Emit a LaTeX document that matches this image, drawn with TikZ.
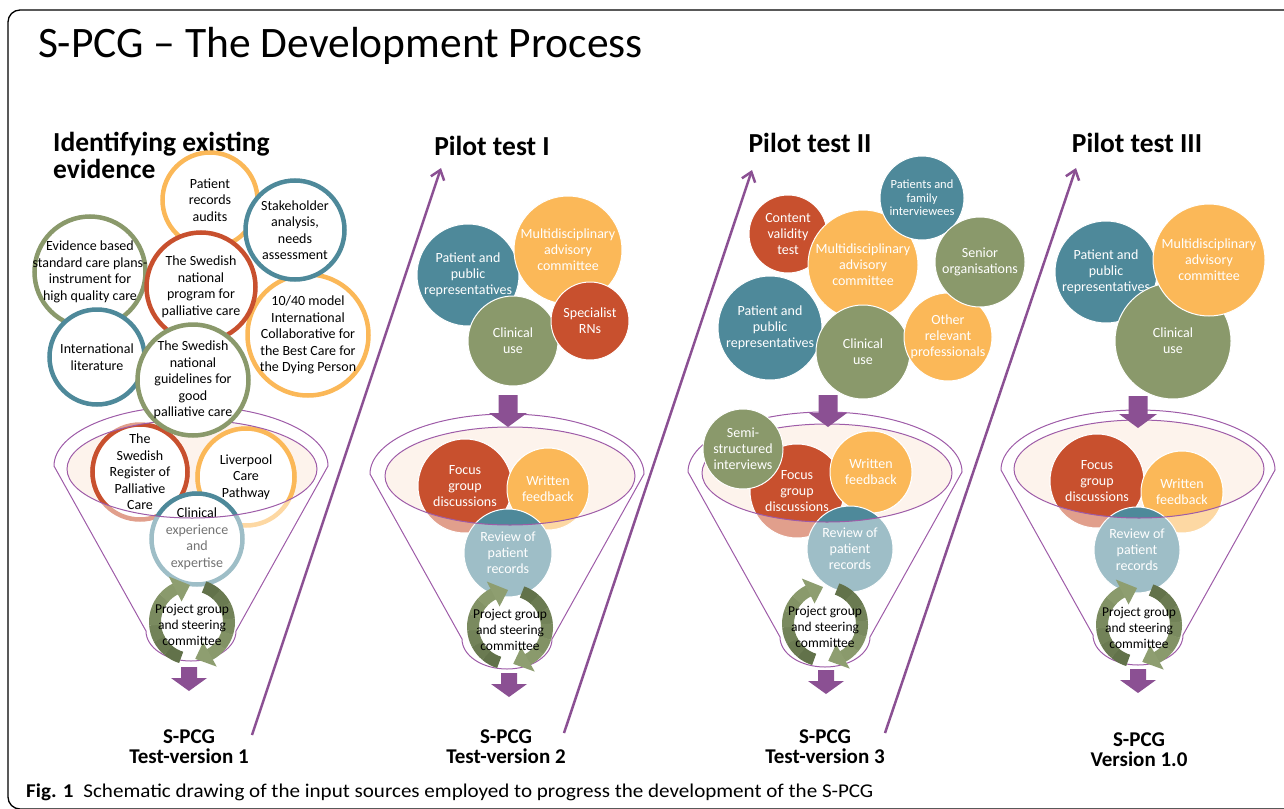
\documentclass[tikz,border=0pt]{standalone}
\usepackage{fontspec}
\setmainfont{Carlito}
\usetikzlibrary{calc,arrows.meta}

\definecolor{tealc}{RGB}{78,137,154}
\definecolor{yellc}{RGB}{251,184,88}
\definecolor{redc}{RGB}{200,80,46}
\definecolor{greenc}{RGB}{138,153,107}
\definecolor{purpc}{RGB}{139,80,147}
\definecolor{funnelc}{RGB}{158,92,168}
\definecolor{peachc}{RGB}{253,243,236}
\definecolor{cycdark}{RGB}{98,114,74}
\definecolor{cyclight}{RGB}{142,158,112}

\newcommand\fdamt{100}

\tikzset{
        ring/.style = {circle, draw=#1!\fdamt!white, line width=4.5pt,
            fill=white, inner sep=0pt},
        blob/.style = {circle, fill=#1!\fdamt!white, draw=white,
            line width=1pt, inner sep=0pt},
        ringtxt/.style = {align=center, inner sep=0pt, text=black!\fdamt!white,
            font=\fontsize{14}{16.5}\selectfont},
        blobtxt/.style = {align=center, inner sep=0pt, text=white,
            font=\fontsize{14}{16}\selectfont},
        smalltxt/.style = {align=center, inner sep=0pt, text=white,
            font=\fontsize{12.5}{13.5}\selectfont},
        head/.style = {inner sep=0pt, font=\fontsize{27.5}{26.5}\selectfont\bfseries},
        vlabel/.style = {inner sep=0pt, align=center,
            font=\fontsize{21}{20}\selectfont\bfseries},
        funnelline/.style = {draw=funnelc, line width=1pt},
        cycband/.style = {line width=12pt},
        cyctxt/.style = {align=center, inner sep=0pt,
            font=\fontsize{13.5}{16}\selectfont},
        diag/.style = {draw=purpc, line width=2.5pt,
            -{Straight Barb[length=9pt,width=14pt]}},
        downarr/.pic = {\fill[purpc] (-9.5,0) -- (9.5,0) -- (9.5,18) -- (19,18)
            -- (0,32) -- (-19,18) -- (-9.5,18) -- cycle;},
        downarrsm/.pic = {\fill[purpc] (-8,0) -- (8,0) -- (8,11) -- (18,11)
            -- (0,24) -- (-18,11) -- (-8,11) -- cycle;},
    }

% outer outline of a funnel, #1 = centre of its top ellipse
\newcommand\funnelframe[1]{%
    \draw[funnelline] ($(#1)+(-137,0)$) arc[start angle=180, end angle=360,
        x radius=137, y radius=60] -- ($(#1)+(45,165)$)
        arc[start angle=0, end angle=180, x radius=45, y radius=30] -- cycle;
}

% the two turning arrows round "Project group and steering committee"
\newcommand\cyclering[1]{%
    \foreach \a/\b in {107/267,289/445}{
        \pgfmathsetmacro\hb{\b-24}
        \foreach \k in {0,...,5}{
            \pgfmathsetmacro\sa{\a+(\hb-\a)*\k/6}
            \pgfmathsetmacro\ea{\a+(\hb-\a)*(\k+1)/6+0.8}
            \pgfmathtruncatemacro\mx{100-\k*18}
            \draw[cycband, draw=cycdark!\mx!cyclight] ($(#1)+(\sa:37)$)
                arc[start angle=\sa, end angle=\ea, radius=37];
        }
        \fill[cyclight] ($(#1)+(\hb:23)$) -- ($(#1)+(\hb:51)$) -- ($(#1)+(\b:37)$) -- cycle;
    }
}

\begin{document}
\begin{tikzpicture}[x=1pt, y=-1pt]
    \useasboundingbox (0,0) rectangle (1284,808);
    \clip (0,0) rectangle (1284,808);

    % frame
    \draw[line width=1.3pt, rounded corners=12pt] (1300,809) -- (8,809) -- (8,10) -- (1300,10);

    % titles
    \node[anchor=base west, inner sep=0pt, font=\fontsize{43.5}{48}\selectfont] (title)
        at (38,58) {S-PCG – The Development Process};
    \node[head, anchor=base west, align=left] (h1) at (53,178) {Identifying existing\\evidence};
    \node[head, anchor=base] (h2) at (492,155) {Pilot test I};
    \node[head, anchor=base] (h3) at (810,152) {Pilot test II};
    \node[head, anchor=base] (h4) at (1137,152) {Pilot test III};

    % funnel centres (top ellipse) and inner ellipse centres
    \coordinate (f1) at (191,466);   \coordinate (f1i) at (192,469);
    \coordinate (f2) at (507,474);   \coordinate (f2i) at (510,476);
    \coordinate (f3) at (825,472);   \coordinate (f3i) at (827,473);
    \coordinate (f4) at (1138,470);  \coordinate (f4i) at (1139,469);

    \foreach \f in {f1,f2,f3,f4}{
        \funnelframe{\f}
        \fill[peachc] (\f i) ellipse[x radius=125, y radius=49];
    }

    % funnel 1
    \foreach \fdamt in {55,100}{
        \begin{scope}
            \ifnum\fdamt=100 \clip (f1i) ellipse[x radius=125, y radius=49];\fi
            \node[ring=redc, minimum size=95pt,
                label={[ringtxt]center:{The\\Swedish\\Register of\\Palliative\\Care}}] (p1reg) at (140,472) {};
            \node[ring=yellc, minimum size=97pt,
                label={[ringtxt]center:{Liverpool\\Care\\Pathway}}] (p1liv) at (246,477) {};
            \node[ring=tealc, minimum size=91pt,
                label={[ringtxt]center:{Clinical\\experience\\and\\expertise}}] (p1cli) at (197,539) {};
        \end{scope}
    }

    % funnel 2
    \foreach \fdamt in {55,100}{
        \begin{scope}
            \ifnum\fdamt=100 \clip (f2i) ellipse[x radius=125, y radius=49];\fi
            \node[blob=redc, minimum size=94pt,
                label={[blobtxt]center:{Focus\\group\\discussions}}] (p2foc) at (465,486) {};
            \node[blob=yellc, minimum size=82pt,
                label={[blobtxt]center:{Written\\feedback}}] (p2wri) at (548,489) {};
            \node[blob=tealc, minimum size=88pt,
                label={[blobtxt]center:{Review of\\patient\\records}}] (p2rev) at (508,553) {};
        \end{scope}
    }

    % funnel 3
    \foreach \fdamt in {55,100}{
        \begin{scope}
            \ifnum\fdamt=100 \clip (f3i) ellipse[x radius=125, y radius=49];\fi
            \node[blob=redc, minimum size=94pt,
                label={[blobtxt]center:{Focus\\group\\discussions}}] (p3foc) at (797,491) {};
            \node[blob=yellc, minimum size=82pt,
                label={[blobtxt]center:{Written\\feedback}}] (p3wri) at (871,472) {};
            \node[blob=tealc, minimum size=86pt,
                label={[blobtxt]center:{Review of\\patient\\records}}] (p3rev) at (850,549) {};
        \end{scope}
    }

    % funnel 4
    \foreach \fdamt in {55,100}{
        \begin{scope}
            \ifnum\fdamt=100 \clip (f4i) ellipse[x radius=125, y radius=49];\fi
            \node[blob=redc, minimum size=94pt,
                label={[blobtxt]center:{Focus\\group\\discussions}}] (p4foc) at (1097,481) {};
            \node[blob=yellc, minimum size=82pt,
                label={[blobtxt]center:{Written\\feedback}}] (p4wri) at (1182,492) {};
            \node[blob=tealc, minimum size=86pt,
                label={[blobtxt]center:{Review of\\patient\\records}}] (p4rev) at (1137,550) {};
        \end{scope}
    }

    \foreach \f in {f1,f2,f3,f4}
        \draw[funnelline] (\f i) ellipse[x radius=125, y radius=49];

    \node[blob=greenc, minimum size=80pt,
        label={[blobtxt]center:{Semi-\\structured\\interviews}}] (p3sem) at (743,449) {};

    % project group cycles
    \coordinate (c1) at (192,622);
    \coordinate (c2) at (510,627);
    \coordinate (c3) at (825,624);
    \coordinate (c4) at (1139,625);
    \foreach \c in {c1,c2,c3,c4}{
        \cyclering{\c}
        \node[cyctxt] (\c t) at ($(\c)+(0,3)$) {Project group\\and steering\\committee};
    }

    % identifying existing evidence
    \node[ring=greenc, minimum size=111pt,
        label={[ringtxt]center:{Evidence based\\standard care plans-\\instrument for\\high quality care}}] (p1evi) at (90,272) {};
    \node[ring=yellc, minimum size=95pt,
        label={[ringtxt]center:{Patient\\records\\audits}}] (p1aud) at (210,200) {};
    \node[ring=yellc, minimum size=121pt,
        label={[ringtxt]center:{10/40 model\\International\\Collaborative for\\the Best Care for\\the Dying Person}}] (p1mod) at (308,335) {};
    \node[ring=tealc, minimum size=99pt,
        label={[ringtxt]center:{Stakeholder\\analysis,\\needs\\assessment}}] (p1stk) at (295,230) {};
    \node[ring=redc, minimum size=109pt,
        label={[ringtxt]center:{The Swedish\\national\\program for\\palliative care}}] (p1prg) at (201,287) {};
    \node[ring=tealc, minimum size=95pt,
        label={[ringtxt]center:{International\\literature}}] (p1lit) at (97,357) {};
    \node[ring=greenc, minimum size=111pt,
        label={[ringtxt]center:{The Swedish\\national\\guidelines for\\good\\palliative care}}] (p1gui) at (193,380) {};

    % pilot test I
    \node[blob=tealc, minimum size=102pt,
        label={[blobtxt]center:{Patient and\\public\\representatives}}] (p2pat) at (468,275) {};
    \node[blob=yellc, minimum size=108pt,
        label={[blobtxt]center:{Multidisciplinary\\advisory\\committee}}] (p2mdc) at (568,250) {};
    \node[blob=greenc, minimum size=90pt,
        label={[blobtxt]center:{Clinical\\use}}] (p2cli) at (513,341) {};
    \node[blob=redc, minimum size=78pt,
        label={[blobtxt]center:{Specialist\\RNs}}] (p2spe) at (590,321) {};

    % pilot test II
    \node[blob=redc, minimum size=78pt,
        label={[blobtxt]center:{Content\\validity\\test}}] (p3con) at (788,234) {};
    \node[blob=yellc, minimum size=110pt,
        label={[blobtxt]center:{Multidisciplinary\\advisory\\committee}}] (p3mdc) at (863,265) {};
    \node[blob=tealc, minimum size=84pt,
        label={[smalltxt]center:{Patients and\\family\\interviewees}}] (p3pfi) at (922,198) {};
    \node[blob=tealc, minimum size=104pt,
        label={[blobtxt]center:{Patient and\\public\\representatives}}] (p3pat) at (770,328) {};
    \node[blob=greenc, minimum size=94pt,
        label={[blobtxt]center:{Clinical\\use}}] (p3cli) at (863,352) {};
    \node[blob=yellc, minimum size=88pt,
        label={[blobtxt]center:{Other\\relevant\\professionals}}] (p3oth) at (948,337) {};
    \node[blob=greenc, minimum size=90pt,
        label={[blobtxt]center:{Senior\\organisations}}] (p3sen) at (980,262) {};

    % pilot test III
    \node[blob=tealc, minimum size=102pt,
        label={[blobtxt]center:{Patient and\\public\\representatives}}] (p4pat) at (1106,272) {};
    \node[blob=greenc, minimum size=116pt,
        label={[blobtxt]center:{Clinical\\use}}] (p4cli) at (1173,341) {};
    \node[blob=yellc, minimum size=112pt,
        label={[blobtxt]center:{Multidisciplinary\\advisory\\committee}}] (p4mdc) at (1209,260) {};

    % block arrows
    \pic (a2) at (508,395) {downarr};
    \pic (a3) at (828,395) {downarr};
    \pic (a4) at (1138,396) {downarr};
    \pic (b1) at (189,667) {downarrsm};
    \pic (b2) at (509,673) {downarrsm};
    \pic (b3) at (826,670) {downarrsm};
    \pic (b4) at (1138,669) {downarrsm};

    % steps between the stages
    \coordinate (d1s) at (252,735);   \coordinate (d1e) at (441,168);
    \coordinate (d2s) at (564,733);   \coordinate (d2e) at (752,170);
    \coordinate (d3s) at (885,733);   \coordinate (d3e) at (1076,168);
    \draw[diag] (d1s) -- (d1e);
    \draw[diag] (d2s) -- (d2e);
    \draw[diag] (d3s) -- (d3e);

    % versions
    \node[vlabel, anchor=base] (v1) at (189,763) {S-PCG\\Test-version 1};
    \node[vlabel, anchor=base] (v2) at (506,763) {S-PCG\\Test-version 2};
    \node[vlabel, anchor=base] (v3) at (825,763) {S-PCG\\Test-version 3};
    \node[vlabel, anchor=base] (v4) at (1139,766) {S-PCG\\Version 1.0};

    \node[anchor=base west, inner sep=0pt, font=\fontsize{19.5}{20}\selectfont\addfontfeature{FakeStretch=1.08}] (cap) at (26,797)
        {\textbf{Fig. 1}\enspace Schematic drawing of the input sources employed to progress the development of the S-PCG};
\end{tikzpicture}
\end{document}
